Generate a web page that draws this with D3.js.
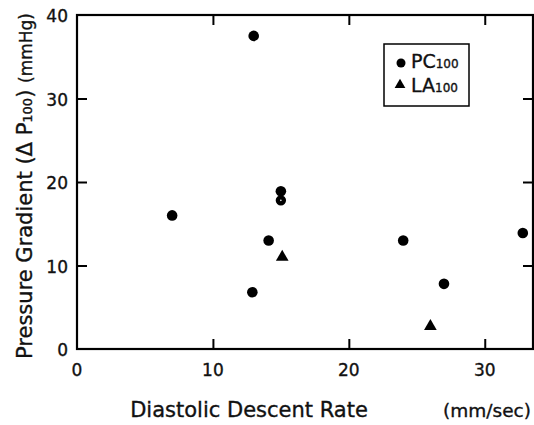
<!DOCTYPE html>
<html>
<head>
<meta charset="utf-8">
<script src="https://cdn.jsdelivr.net/npm/d3@7"></script>
<style>
  body { margin: 0; background: #fff; }
  text { font-family: 'DejaVu Sans', 'Liberation Sans', sans-serif; fill: #111; stroke: #111; stroke-width: 0.35; }
</style>
</head>
<body>
<div id="chart"></div>
<script>
// PC100 points [rate, gradient]
const pcPoints = [[7, 16], [13, 37.5], [12.9, 6.8], [14.1, 13], [15, 18.9], [24, 13], [27, 7.8], [32.8, 13.9]]
// PC100 point printed with a small hole
const pcOpenPoints = [[15, 17.8]]
// LA100 points
const laPoints = [[15.1, 11], [26, 2.7]]
const xTicks = [0, 10, 20, 30]
const yTicks = [0, 10, 20, 30, 40]

const width = 534, height = 425
const margin = {top: 15, right: 1, bottom: 76, left: 77}

const svg = d3.select('#chart').append('svg')
  .attr('width', width)
  .attr('height', height)

const x = d3.scaleLinear().domain([0, 33.55]).range([margin.left, width - margin.right])
const y = d3.scaleLinear().domain([0, 40]).range([height - margin.bottom, margin.top])

const g = svg.append('g')

// frame
g.append('rect')
  .attr('x', x(0))
  .attr('y', y(40))
  .attr('width', x.range()[1] - x(0))
  .attr('height', y(0) - y(40))
  .attr('fill', 'none')
  .attr('stroke', '#000')
  .attr('stroke-width', 2.2)

// ticks point inward on all sides
g.append('g')
  .attr('transform', `translate(0, ${y(0)})`)
  .call(d3.axisBottom(x).tickValues(xTicks.slice(1)).tickSize(-10).tickFormat(''))
  .call(s => s.select('.domain').remove())
g.append('g')
  .attr('transform', `translate(0, ${y(40)})`)
  .call(d3.axisTop(x).tickValues(xTicks.slice(1)).tickSize(-10).tickFormat(''))
  .call(s => s.select('.domain').remove())
g.append('g')
  .attr('transform', `translate(${x(0)}, 0)`)
  .call(d3.axisLeft(y).tickValues(yTicks.slice(1, -1)).tickSize(-10).tickFormat(''))
  .call(s => s.select('.domain').remove())
g.append('g')
  .attr('transform', `translate(${x.range()[1]}, 0)`)
  .call(d3.axisRight(y).tickValues(yTicks.slice(1, -1)).tickSize(-10).tickFormat(''))
  .call(s => s.select('.domain').remove())
g.selectAll('.tick line').attr('stroke', '#000').attr('stroke-width', 2)

// tick labels
g.selectAll('.xlabel')
  .data(xTicks)
  .enter().append('text')
  .attr('x', d => x(d))
  .attr('y', y(0) + 27)
  .style('text-anchor', 'middle')
  .style('font-size', '17px')
  .text(d => d)
g.selectAll('.ylabel')
  .data(yTicks)
  .enter().append('text')
  .attr('x', x(0) - 9)
  .attr('y', d => y(d) + 7)
  .style('text-anchor', 'end')
  .style('font-size', '17px')
  .text(d => d)

// axis titles
g.append('text')
  .attr('x', 249)
  .attr('y', 417)
  .style('text-anchor', 'middle')
  .style('font-size', '21px')
  .text('Diastolic Descent Rate')
g.append('text')
  .attr('x', 531)
  .attr('y', 417)
  .style('text-anchor', 'end')
  .style('font-size', '18.5px')
  .text('(mm/sec)')

const yTitle = g.append('text')
  .attr('transform', `translate(32, 186) rotate(-90)`)
  .style('text-anchor', 'middle')
  .style('font-size', '21px')
yTitle.append('tspan').text('Pressure Gradient (\u0394 P')
yTitle.append('tspan').style('font-size', '13px').text('100')
yTitle.append('tspan').text(') ')
yTitle.append('tspan').style('font-size', '17px').text('(mmHg)')

// markers
g.selectAll('.pc')
  .data(pcPoints)
  .enter().append('circle')
  .attr('cx', d => x(d[0]))
  .attr('cy', d => y(d[1]))
  .attr('r', 5.3)
  .attr('fill', '#000')
g.selectAll('.pcopen')
  .data(pcOpenPoints)
  .enter().append('circle')
  .attr('cx', d => x(d[0]))
  .attr('cy', d => y(d[1]))
  .attr('r', 3)
  .attr('fill', '#fff')
  .attr('stroke', '#000')
  .attr('stroke-width', 4.4)
const tri = d3.symbol().type(d3.symbolTriangle).size(70)
g.selectAll('.la')
  .data(laPoints)
  .enter().append('path')
  .attr('transform', d => `translate(${x(d[0])}, ${y(d[1])})`)
  .attr('d', tri)
  .attr('fill', '#000')

// legend
const legend = g.append('g').attr('transform', 'translate(384, 44)')
legend.append('rect')
  .attr('width', 85)
  .attr('height', 62)
  .attr('fill', '#fff')
  .attr('stroke', '#000')
  .attr('stroke-width', 1.5)
legend.append('circle').attr('cx', 17).attr('cy', 19).attr('r', 4.5).attr('fill', '#000')
legend.append('path').attr('transform', 'translate(16, 41)').attr('d', d3.symbol().type(d3.symbolTriangle).size(50)).attr('fill', '#000')
const l1 = legend.append('text').attr('x', 27).attr('y', 24).style('font-size', '19px')
l1.append('tspan').text('PC')
l1.append('tspan').style('font-size', '12px').text('100')
const l2 = legend.append('text').attr('x', 27).attr('y', 48).style('font-size', '19px')
l2.append('tspan').text('LA')
l2.append('tspan').style('font-size', '12px').text('100')
</script>
</body>
</html>
